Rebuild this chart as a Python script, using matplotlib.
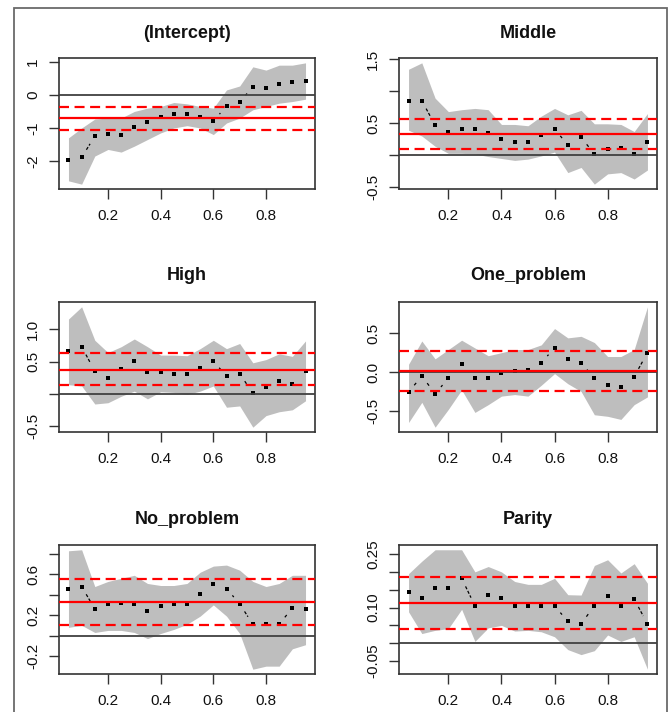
"""
Quantile regression coefficient plots (quantreg style), 3x2 panels:
point estimates per tau, grey confidence band, OLS estimate and CI in red.
"""
import matplotlib
matplotlib.use("Agg")
import numpy as np
import matplotlib.pyplot as plt
from matplotlib.patches import Rectangle

plt.rcParams["font.family"] = ["Liberation Sans", "DejaVu Sans"]

OUTPUT = "out.png"

TAUS = [0.05, 0.10, 0.15, 0.20, 0.25, 0.30, 0.35, 0.40, 0.45, 0.50,
        0.55, 0.60, 0.65, 0.70, 0.75, 0.80, 0.85, 0.90, 0.95]

TITLES = ["(Intercept)", "Middle", "High", "One_problem", "No_problem", "Parity"]

# point estimates per tau
EST_INTERCEPT = [-1.98, -1.89, -1.25, -1.17, -1.21, -0.96, -0.83, -0.68, -0.57, -0.57,
                 -0.66, -0.78, -0.35, -0.22, 0.25, 0.20, 0.33, 0.38, 0.43]
EST_MIDDLE = [0.85, 0.85, 0.47, 0.36, 0.41, 0.41, 0.35, 0.25, 0.21, 0.21,
              0.31, 0.41, 0.16, 0.28, 0.02, 0.10, 0.12, 0.02, 0.21]
EST_HIGH = [0.66, 0.73, 0.35, 0.25, 0.39, 0.51, 0.34, 0.34, 0.31, 0.31,
            0.40, 0.51, 0.27, 0.31, 0.01, 0.10, 0.20, 0.15, 0.35]
EST_ONE = [-0.26, -0.05, -0.28, -0.08, 0.10, -0.08, -0.08, -0.01, 0.01, 0.02,
           0.12, 0.31, 0.17, 0.12, -0.08, -0.17, -0.19, -0.06, 0.25]
EST_NO = [0.46, 0.48, 0.26, 0.31, 0.32, 0.31, 0.24, 0.29, 0.31, 0.31,
          0.41, 0.50, 0.46, 0.31, 0.11, 0.11, 0.11, 0.27, 0.26]
EST_PARITY = [0.143, 0.127, 0.155, 0.155, 0.182, 0.105, 0.135, 0.127, 0.105, 0.105,
              0.105, 0.105, 0.061, 0.054, 0.105, 0.131, 0.105, 0.124, 0.054]

# confidence band, lower / upper
LO_INTERCEPT = [-2.60, -2.70, -1.85, -1.65, -1.73, -1.55, -1.35, -1.15, -1.00, -0.93,
                -1.00, -1.20, -0.85, -0.70, -0.45, -0.35, -0.25, -0.20, -0.13]
HI_INTERCEPT = [-1.30, -1.00, -0.73, -0.70, -0.70, -0.50, -0.40, -0.35, -0.23, -0.27,
                -0.35, -0.40, 0.15, 0.27, 0.85, 0.75, 0.90, 0.90, 0.97]
LO_MIDDLE = [0.39, 0.30, 0.14, 0.03, 0.03, 0.02, -0.02, -0.05, -0.08, -0.06,
             -0.01, 0.05, -0.27, -0.19, -0.45, -0.29, -0.27, -0.37, -0.23]
HI_MIDDLE = [1.34, 1.44, 0.89, 0.68, 0.71, 0.73, 0.71, 0.48, 0.48, 0.46,
             0.61, 0.73, 0.63, 0.70, 0.49, 0.49, 0.48, 0.37, 0.65]
LO_HIGH = [0.14, 0.12, -0.16, -0.14, -0.04, 0.04, -0.08, 0.03, 0.02, -0.01,
           0.04, 0.12, -0.21, -0.19, -0.52, -0.34, -0.28, -0.25, -0.11]
HI_HIGH = [1.16, 1.35, 0.83, 0.64, 0.73, 0.85, 0.73, 0.60, 0.60, 0.59,
           0.70, 0.83, 0.70, 0.78, 0.48, 0.53, 0.62, 0.58, 0.82]
LO_ONE = [-0.65, -0.39, -0.71, -0.48, -0.23, -0.52, -0.42, -0.31, -0.29, -0.31,
          -0.17, -0.02, -0.15, -0.25, -0.55, -0.57, -0.61, -0.42, -0.32]
HI_ONE = [0.10, 0.40, 0.17, 0.29, 0.41, 0.31, 0.21, 0.25, 0.29, 0.29,
          0.35, 0.56, 0.44, 0.46, 0.38, 0.20, 0.20, 0.29, 0.84]
LO_NO = [0.08, 0.10, 0.03, 0.05, 0.05, 0.03, -0.03, 0.02, 0.06, 0.11,
         0.19, 0.30, 0.19, 0.02, -0.33, -0.30, -0.30, -0.13, -0.09]
HI_NO = [0.83, 0.84, 0.48, 0.53, 0.56, 0.59, 0.51, 0.49, 0.49, 0.51,
         0.62, 0.68, 0.69, 0.64, 0.53, 0.48, 0.51, 0.59, 0.59]
LO_PARITY = [0.088, 0.027, 0.036, 0.041, 0.095, 0.005, 0.043, 0.050, 0.034, 0.036,
             0.032, 0.018, -0.018, -0.032, -0.021, 0.023, 0.005, 0.018, -0.073]
HI_PARITY = [0.195, 0.230, 0.262, 0.262, 0.262, 0.200, 0.215, 0.200, 0.173, 0.165,
             0.165, 0.182, 0.136, 0.135, 0.218, 0.234, 0.197, 0.223, 0.168]

# OLS estimate and its lower / upper CI
OLS_EST = [-0.71, 0.33, 0.37, 0.01, 0.33, 0.113]
OLS_LO = [-1.07, 0.09, 0.13, -0.25, 0.10, 0.039]
OLS_HI = [-0.38, 0.57, 0.63, 0.27, 0.55, 0.186]

Y_TICKS = [[-2, -1, 0, 1],
           [-0.5, 0.0, 0.5, 1.0, 1.5],
           [-0.5, 0.0, 0.5, 1.0],
           [-0.5, 0.0, 0.5],
           [-0.2, 0.0, 0.2, 0.4, 0.6, 0.8],
           [-0.05, 0.0, 0.05, 0.10, 0.15, 0.20, 0.25]]
Y_LABELS = [["-2", "-1", "0", "1"],
            ["-0.5", "", "0.5", "", "1.5"],
            ["-0.5", "", "0.5", "1.0"],
            ["-0.5", "0.0", "0.5"],
            ["-0.2", "", "0.2", "", "0.6", ""],
            ["-0.05", "", "", "0.10", "", "", "0.25"]]
X_TICKS = [0.2, 0.4, 0.6, 0.8]

W, H = 669, 712
# axes boxes in pixels: left, top, right, bottom
COLS = [(59, 315), (399, 657)]
ROWS = [(58, 189), (302, 432), (545, 674)]
TITLE_Y = [34, 276, 520]


def draw_type_b(ax, x, y, gap_px=9.0):
    """R's type='b': points joined by segments that stop short of each point."""
    pts = ax.transData.transform(np.column_stack([x, y]))
    inv = ax.transData.inverted()
    for p, q in zip(pts[:-1], pts[1:]):
        d = q - p
        length = np.hypot(*d)
        if length <= 2 * gap_px + 1:
            continue
        u = d / length
        seg = inv.transform(np.vstack([p + u * gap_px, q - u * gap_px]))
        ax.plot(seg[:, 0], seg[:, 1], color="black", lw=0.9,
                ls=(0, (2.5, 1.5)), zorder=3)
    ax.plot(x, y, "s", color="black", ms=2.5, mew=0, zorder=4)


def main():
    fig = plt.figure(figsize=(W / 100, H / 100), dpi=100)
    fig.patches.append(Rectangle((14 / W, -0.05), (667 - 14) / W, 1.05 - 8 / H,
                                 transform=fig.transFigure, fill=False,
                                 edgecolor="#6a6a6a", lw=1.3))

    est = [EST_INTERCEPT, EST_MIDDLE, EST_HIGH, EST_ONE, EST_NO, EST_PARITY]
    lo = [LO_INTERCEPT, LO_MIDDLE, LO_HIGH, LO_ONE, LO_NO, LO_PARITY]
    hi = [HI_INTERCEPT, HI_MIDDLE, HI_HIGH, HI_ONE, HI_NO, HI_PARITY]
    taus = np.array(TAUS)

    for i in range(6):
        (x0, x1), (y0, y1) = COLS[i % 2], ROWS[i // 2]
        ax = fig.add_axes([x0 / W, 1 - y1 / H, (x1 - x0) / W, (y1 - y0) / H])

        l, h, e = np.array(lo[i]), np.array(hi[i]), np.array(est[i])
        vals = np.concatenate([l, h, [OLS_LO[i], OLS_HI[i]]])
        span = vals.max() - vals.min()
        ax.set_ylim(vals.min() - 0.04 * span, vals.max() + 0.04 * span)
        ax.set_xlim(taus.min() - 0.04 * 0.9, taus.max() + 0.04 * 0.9)

        ax.fill_between(taus, l, h, color="#bebebe", lw=0, zorder=1)
        draw_type_b(ax, taus, e)
        ax.axhline(0, color="#404040", lw=1.3, zorder=5)
        ax.axhline(OLS_EST[i], color="#ff0000", lw=1.6, zorder=6)
        for v in (OLS_LO[i], OLS_HI[i]):
            ax.axhline(v, color="#ff0000", lw=1.6, ls=(0, (4.5, 2.5)), zorder=6)

        ax.set_xticks(X_TICKS)
        ax.set_xticklabels([f"{t:.1f}" for t in X_TICKS])
        ax.set_yticks(Y_TICKS[i])
        ax.set_yticklabels(Y_LABELS[i])
        for lab in ax.get_yticklabels():
            lab.set_rotation(90)
            lab.set_va("center")
        ax.tick_params(length=7.5, width=1.0, color="#333333", labelsize=11,
                       labelcolor="#111111")
        ax.tick_params(axis="x", pad=7)
        ax.tick_params(axis="y", pad=6)
        for sp in ax.spines.values():
            sp.set_linewidth(1.2)
            sp.set_color("#333333")

        fig.text((x0 + x1) / 2 / W, 1 - TITLE_Y[i // 2] / H, TITLES[i],
                 ha="center", va="center", fontsize=13, fontweight="bold",
                 color="#111111")

    fig.savefig(OUTPUT, dpi=100)


if __name__ == "__main__":
    main()
